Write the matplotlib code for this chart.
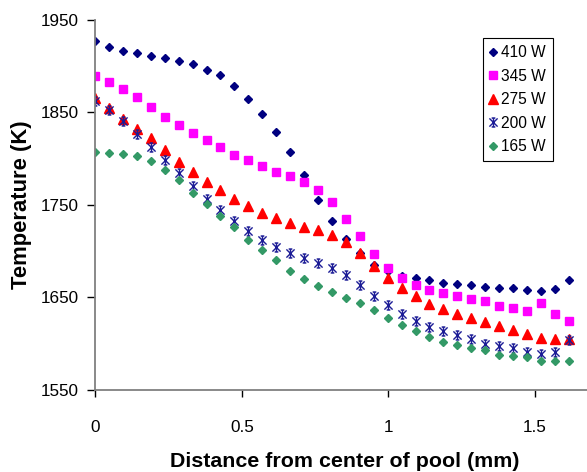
import numpy as np
import matplotlib
matplotlib.use('Agg')
import matplotlib.pyplot as plt
from matplotlib.path import Path

plt.rcParams['font.family'] = ['Liberation Sans', 'DejaVu Sans']

# distance from pool center (mm), 35 sample positions
distance = [0.0, 0.0475, 0.095, 0.1425, 0.19, 0.2375, 0.285, 0.3325, 0.38, 0.4275,
            0.475, 0.5225, 0.57, 0.6175, 0.665, 0.7125, 0.76, 0.8075, 0.855, 0.9025,
            0.95, 0.9975, 1.045, 1.0925, 1.14, 1.1875, 1.235, 1.2825, 1.33, 1.3775,
            1.425, 1.4725, 1.52, 1.5675, 1.615]

t_410 = [1927.6, 1921, 1916.5, 1914, 1911, 1908.6, 1906, 1902, 1896, 1890,
         1878, 1864.6, 1848, 1828.6, 1807, 1782.4, 1755.4, 1733, 1713, 1697.6,
         1685, 1679, 1673.5, 1670.8, 1668.3, 1665.6, 1664.6, 1663.4, 1661, 1660.5,
         1659.6, 1658, 1656.5, 1659.5, 1668.3]
t_345 = [1889.5, 1883.3, 1875.7, 1866.8, 1856.3, 1845, 1836.5, 1827.4, 1820.3, 1812,
         1804.4, 1798, 1792.5, 1786, 1781, 1774.5, 1766.2, 1753.2, 1734.9, 1716.5,
         1697, 1681.6, 1670.5, 1663.8, 1658.4, 1655.2, 1651, 1648.2, 1646, 1641,
         1638.3, 1635, 1644, 1632.3, 1624.8]
t_275 = [1866, 1854.5, 1843, 1832, 1822, 1809.5, 1796.8, 1785.7, 1775, 1766,
         1756.5, 1749, 1741, 1735.6, 1730.9, 1726.3, 1722.3, 1717.6, 1710, 1697.7,
         1684, 1671, 1660.2, 1651, 1643, 1637.5, 1632, 1627.4, 1623.8, 1619,
         1615, 1610.8, 1606.2, 1605.5, 1605]
t_200 = [1862, 1853, 1841, 1826.8, 1812, 1798, 1784.3, 1770.5, 1756.5, 1744.6,
         1732.7, 1721.9, 1711.7, 1704.6, 1698, 1692.5, 1687, 1682, 1674.4, 1663.6,
         1651.8, 1641.8, 1632.3, 1624.9, 1617.8, 1613.5, 1609.6, 1604.5, 1600, 1597.3,
         1594.8, 1590.9, 1588.4, 1590.9, 1603.9]
t_165 = [1807.6, 1805.9, 1805, 1802.6, 1797.2, 1787.8, 1776.6, 1762.6, 1750.4, 1738,
         1726, 1712, 1701.4, 1690, 1679, 1670, 1662.8, 1656.3, 1649.5, 1644.2,
         1636.3, 1627.5, 1620, 1613.5, 1606.9, 1601.4, 1598, 1595.3, 1592.8, 1588,
         1586.7, 1585.6, 1580.9, 1580.9, 1581.2]

labels = ['410 W', '345 W', '275 W', '200 W', '165 W']

# excel-like star marker: X + vertical bar with small caps
M, L = Path.MOVETO, Path.LINETO
star = Path([(-1, -1), (1, 1), (-1, 1), (1, -1), (0, -1.1), (0, 1.1),
             (-0.45, 1.1), (0.45, 1.1), (-0.45, -1.1), (0.45, -1.1)],
            [M, L, M, L, M, L, M, L, M, L])

fig = plt.figure(figsize=(5.87, 4.72), dpi=100)
ax = fig.add_axes([0.162, 0.174, 0.838, 0.784])

ax.plot(distance, t_410, ls='none', marker='D', ms=4.4, color='#000080', label=labels[0])
ax.plot(distance, t_345, ls='none', marker='s', ms=6.3, color='#FF00FF', label=labels[1])
ax.plot(distance, t_275, ls='none', marker='^', ms=7.5, color='#FF0000', label=labels[2])
ax.plot(distance, t_200, ls='none', marker=star, ms=6.5, mew=1.0, color='#1c1c96',
        mfc='none', label=labels[3])
ax.plot(distance, t_165, ls='none', marker='D', ms=4.4, color='#339966', label=labels[4])

ax.set_xlim(0, 1.677)
ax.set_ylim(1550, 1950)
ax.set_xticks([0, 0.5, 1, 1.5])
ax.set_xticklabels(['0', '0.5', '1', '1.5'])
ax.set_yticks([1550, 1650, 1750, 1850, 1950])

for s in ['top', 'right']:
    ax.spines[s].set_visible(False)
for s in ['left', 'bottom']:
    ax.spines[s].set_color('#808080')
    ax.spines[s].set_linewidth(1.3)

ax.tick_params(axis='x', direction='out', length=5, width=1, color='#000000',
               labelsize=12.3, pad=17)
ax.tick_params(axis='y', direction='out', length=6, width=1, color='#000000',
               labelsize=12.3, pad=6)

ax.set_xlabel('Distance from center of pool (mm)', fontsize=15.4, fontweight='bold',
              labelpad=12)
ax.xaxis.label.set_x(0.508)
ax.set_ylabel('Temperature (K)', fontsize=15.8, fontweight='bold', labelpad=6)

leg = ax.legend(loc='upper right', bbox_to_anchor=(0.931, 0.951), fontsize=11.2,
                frameon=True, fancybox=False, edgecolor='black', framealpha=1,
                handlelength=0.4, handletextpad=0.35, labelspacing=0.55,
                borderpad=0.45, borderaxespad=0)
leg.get_frame().set_linewidth(0.8)

fig.savefig('out.png', dpi=100)
